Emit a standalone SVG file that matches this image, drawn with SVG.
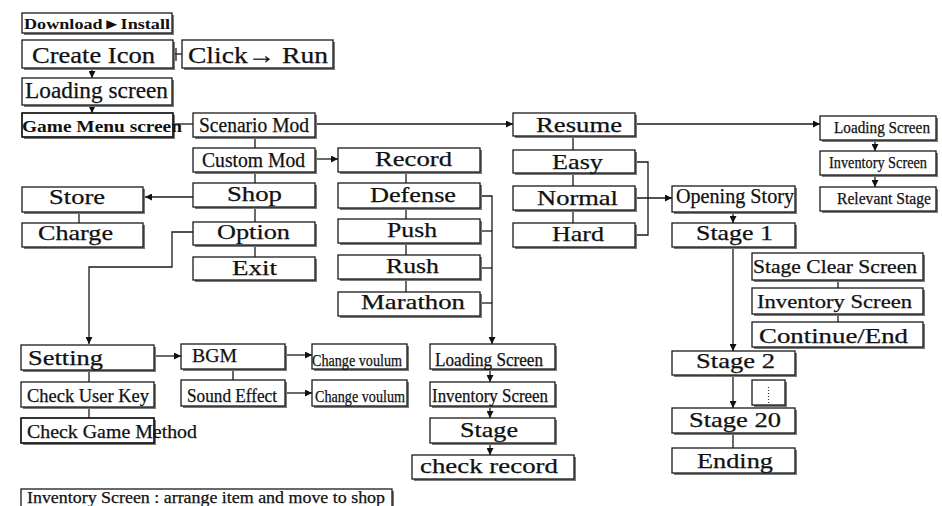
<svg xmlns="http://www.w3.org/2000/svg" width="942" height="506" viewBox="0 0 942 506">
<defs>
<marker id="ah" viewBox="0 0 8 8" refX="8" refY="4" markerWidth="7" markerHeight="7" markerUnits="userSpaceOnUse" orient="auto">
<path d="M0,0 L8,4 L0,8 z" fill="#111"/>
</marker>
</defs>
<style>
.sh{fill:#7a7a7a}
.bx{fill:#fff;stroke:#1a1a1a;stroke-width:1.3}
.bo{fill:none;stroke:#1a1a1a;stroke-width:1.3}
text{font-family:"Liberation Serif","Times New Roman",serif;fill:#111;stroke:#111;stroke-width:0.25}
.b{font-weight:bold;stroke-width:0}
.c line,.c polyline,.c path{stroke:#1a1a1a;stroke-width:1.3;fill:none}
.ar{marker-end:url(#ah)}
</style>
<rect width="942" height="506" fill="#fff"/>
<g class="c" id="connectors">
<line x1="173" y1="54" x2="182" y2="54"/>
<line x1="176" y1="48" x2="176" y2="61"/>
<line class="ar" x1="92" y1="68" x2="92" y2="78"/>
<line class="ar" x1="92" y1="105" x2="92" y2="113"/>
<line x1="173" y1="124" x2="193" y2="124"/>
<line x1="255" y1="137" x2="255" y2="257"/>
<line class="ar" x1="315" y1="124" x2="513" y2="124"/>
<line class="ar" x1="315" y1="159" x2="338" y2="159"/>
<line class="ar" x1="193" y1="197" x2="145" y2="197"/>
<line x1="79" y1="212" x2="79" y2="223"/>
<polyline class="ar" points="193,232 172,232 172,267 89,267 89,344"/>
<line x1="406" y1="172" x2="406" y2="292"/>
<polyline class="ar" points="480,196 492,196 492,344"/>
<line x1="480" y1="231" x2="492" y2="231"/>
<line x1="480" y1="268" x2="492" y2="268"/>
<line x1="480" y1="303" x2="492" y2="303"/>
<line class="ar" x1="490" y1="369" x2="490" y2="382"/>
<line class="ar" x1="490" y1="406" x2="490" y2="418"/>
<line class="ar" x1="490" y1="443" x2="490" y2="455"/>
<line class="ar" x1="635" y1="124" x2="820" y2="124"/>
<line x1="573" y1="136" x2="573" y2="223"/>
<polyline points="635,162 648,162 648,235 635,235"/>
<line class="ar" x1="635" y1="198" x2="672" y2="198"/>
<line class="ar" x1="875" y1="140" x2="875" y2="151"/>
<line class="ar" x1="875" y1="175" x2="875" y2="187"/>
<line class="ar" x1="733" y1="212" x2="733" y2="223"/>
<line class="ar" x1="733" y1="247" x2="733" y2="351"/>
<line x1="838" y1="280" x2="838" y2="322"/>
<line class="ar" x1="733" y1="375" x2="733" y2="408"/>
<line x1="733" y1="433" x2="733" y2="448"/>
<line class="ar" x1="154" y1="356" x2="181" y2="356"/>
<line class="ar" x1="285" y1="355" x2="312" y2="355"/>
<line x1="233" y1="369" x2="233" y2="380"/>
<line class="ar" x1="285" y1="393" x2="312" y2="393"/>
<line x1="89" y1="370" x2="89" y2="382"/>
<line x1="89" y1="407" x2="89" y2="418"/>
</g>
<g id="n-download"><rect class="sh" x="24" y="15" width="150" height="20"/><rect class="bx" x="22" y="13" width="150" height="20"/><text class="b" x="24" y="29" font-size="15" textLength="146" lengthAdjust="spacingAndGlyphs">Download►Install</text></g>
<g id="n-createicon"><rect class="sh" x="24" y="42" width="151" height="28"/><rect class="bx" x="22" y="40" width="151" height="28"/><text x="32" y="63" font-size="24" textLength="123" lengthAdjust="spacingAndGlyphs">Create Icon</text></g>
<g id="n-clickrun"><rect class="sh" x="184" y="42" width="151" height="28"/><rect class="bx" x="182" y="40" width="151" height="28"/><text x="188" y="63" font-size="24" textLength="140" lengthAdjust="spacingAndGlyphs">Click→ Run</text></g>
<g id="n-loading"><rect class="sh" x="24" y="80" width="150" height="27"/><rect class="bx" x="22" y="78" width="150" height="27"/><text x="25" y="98" font-size="23" textLength="143" lengthAdjust="spacingAndGlyphs">Loading screen</text></g>
<g id="n-gamemenu"><rect class="sh" x="24" y="115" width="151" height="24"/><rect class="bx" x="22" y="113" width="151" height="24"/><text class="b" x="22" y="132" font-size="17" textLength="160" lengthAdjust="spacingAndGlyphs">Game Menu screen</text><rect class="bo" x="22" y="113" width="151" height="24"/></g>
<g id="n-scenario"><rect class="sh" x="195" y="115" width="122" height="24"/><rect class="bx" x="193" y="113" width="122" height="24"/><text x="199" y="132" font-size="20" textLength="110" lengthAdjust="spacingAndGlyphs">Scenario Mod</text></g>
<g id="n-custom"><rect class="sh" x="195" y="150" width="122" height="24"/><rect class="bx" x="193" y="148" width="122" height="24"/><text x="202" y="167" font-size="20" textLength="103" lengthAdjust="spacingAndGlyphs">Custom Mod</text></g>
<g id="n-shop"><rect class="sh" x="195" y="185" width="122" height="24"/><rect class="bx" x="193" y="183" width="122" height="24"/><text x="227" y="201" font-size="21" textLength="55" lengthAdjust="spacingAndGlyphs">Shop</text></g>
<g id="n-option"><rect class="sh" x="195" y="224" width="122" height="23"/><rect class="bx" x="193" y="222" width="122" height="23"/><text x="217" y="239" font-size="21" textLength="73" lengthAdjust="spacingAndGlyphs">Option</text></g>
<g id="n-exit"><rect class="sh" x="195" y="259" width="122" height="23"/><rect class="bx" x="193" y="257" width="122" height="23"/><text x="232" y="275" font-size="21" textLength="45" lengthAdjust="spacingAndGlyphs">Exit</text></g>
<g id="n-store"><rect class="sh" x="24" y="189" width="121" height="25"/><rect class="bx" x="22" y="187" width="121" height="25"/><text x="49" y="204" font-size="21" textLength="56" lengthAdjust="spacingAndGlyphs">Store</text></g>
<g id="n-charge"><rect class="sh" x="24" y="225" width="121" height="24"/><rect class="bx" x="22" y="223" width="121" height="24"/><text x="38" y="240" font-size="21" textLength="75" lengthAdjust="spacingAndGlyphs">Charge</text></g>
<g id="n-record"><rect class="sh" x="340" y="150" width="142" height="24"/><rect class="bx" x="338" y="148" width="142" height="24"/><text x="375" y="166" font-size="21" textLength="77" lengthAdjust="spacingAndGlyphs">Record</text></g>
<g id="n-defense"><rect class="sh" x="340" y="185" width="142" height="25"/><rect class="bx" x="338" y="183" width="142" height="25"/><text x="370" y="202" font-size="21" textLength="86" lengthAdjust="spacingAndGlyphs">Defense</text></g>
<g id="n-push"><rect class="sh" x="340" y="221" width="142" height="24"/><rect class="bx" x="338" y="219" width="142" height="24"/><text x="387" y="237" font-size="21" textLength="50" lengthAdjust="spacingAndGlyphs">Push</text></g>
<g id="n-rush"><rect class="sh" x="340" y="257" width="142" height="24"/><rect class="bx" x="338" y="255" width="142" height="24"/><text x="386" y="273" font-size="21" textLength="53" lengthAdjust="spacingAndGlyphs">Rush</text></g>
<g id="n-marathon"><rect class="sh" x="340" y="294" width="142" height="24"/><rect class="bx" x="338" y="292" width="142" height="24"/><text x="361" y="309" font-size="21" textLength="104" lengthAdjust="spacingAndGlyphs">Marathon</text></g>
<g id="n-resume"><rect class="sh" x="515" y="115" width="122" height="23"/><rect class="bx" x="513" y="113" width="122" height="23"/><text x="536" y="132" font-size="21" textLength="86" lengthAdjust="spacingAndGlyphs">Resume</text></g>
<g id="n-easy"><rect class="sh" x="515" y="152" width="122" height="23"/><rect class="bx" x="513" y="150" width="122" height="23"/><text x="552" y="169" font-size="21" textLength="51" lengthAdjust="spacingAndGlyphs">Easy</text></g>
<g id="n-normal"><rect class="sh" x="515" y="188" width="122" height="24"/><rect class="bx" x="513" y="186" width="122" height="24"/><text x="537" y="205" font-size="21" textLength="81" lengthAdjust="spacingAndGlyphs">Normal</text></g>
<g id="n-hard"><rect class="sh" x="515" y="225" width="122" height="24"/><rect class="bx" x="513" y="223" width="122" height="24"/><text x="552" y="241" font-size="21" textLength="52" lengthAdjust="spacingAndGlyphs">Hard</text></g>
<g id="n-loading2"><rect class="sh" x="822" y="118" width="116" height="24"/><rect class="bx" x="820" y="116" width="116" height="24"/><text x="834" y="133" font-size="17" textLength="96" lengthAdjust="spacingAndGlyphs">Loading Screen</text></g>
<g id="n-inventory2"><rect class="sh" x="822" y="153" width="116" height="24"/><rect class="bx" x="820" y="151" width="116" height="24"/><text x="829" y="168" font-size="16" textLength="98" lengthAdjust="spacingAndGlyphs">Inventory Screen</text></g>
<g id="n-relevant"><rect class="sh" x="822" y="189" width="116" height="24"/><rect class="bx" x="820" y="187" width="116" height="24"/><text x="837" y="204" font-size="17" textLength="94" lengthAdjust="spacingAndGlyphs">Relevant Stage</text></g>
<g id="n-opening"><rect class="sh" x="674" y="188" width="123" height="26"/><rect class="bx" x="672" y="186" width="123" height="26"/><text x="676" y="203" font-size="20" textLength="118" lengthAdjust="spacingAndGlyphs">Opening Story</text></g>
<g id="n-stage1"><rect class="sh" x="674" y="225" width="123" height="24"/><rect class="bx" x="672" y="223" width="123" height="24"/><text x="696" y="240" font-size="21" textLength="77" lengthAdjust="spacingAndGlyphs">Stage 1</text></g>
<g id="n-stageclear"><rect class="sh" x="754" y="255" width="171" height="27"/><rect class="bx" x="752" y="253" width="171" height="27"/><text x="753" y="273" font-size="19" textLength="164" lengthAdjust="spacingAndGlyphs">Stage Clear Screen</text></g>
<g id="n-inventory3"><rect class="sh" x="754" y="290" width="171" height="26"/><rect class="bx" x="752" y="288" width="171" height="26"/><text x="757" y="308" font-size="19" textLength="155" lengthAdjust="spacingAndGlyphs">Inventory Screen</text></g>
<g id="n-continue"><rect class="sh" x="754" y="324" width="171" height="25"/><rect class="bx" x="752" y="322" width="171" height="25"/><text x="759" y="343" font-size="21" textLength="149" lengthAdjust="spacingAndGlyphs">Continue/End</text></g>
<g id="n-stage2"><rect class="sh" x="674" y="353" width="123" height="24"/><rect class="bx" x="672" y="351" width="123" height="24"/><text x="696" y="368" font-size="21" textLength="79" lengthAdjust="spacingAndGlyphs">Stage 2</text></g>
<g id="n-dots"><rect class="sh" x="754" y="382" width="33" height="25"/><rect class="bx" x="752" y="380" width="33" height="25"/><line x1="768.5" y1="387" x2="768.5" y2="403" stroke="#333" stroke-width="1.2" stroke-dasharray="1,2"/></g>
<g id="n-stage20"><rect class="sh" x="674" y="410" width="123" height="25"/><rect class="bx" x="672" y="408" width="123" height="25"/><text x="689" y="427" font-size="21" textLength="92" lengthAdjust="spacingAndGlyphs">Stage 20</text></g>
<g id="n-ending"><rect class="sh" x="674" y="450" width="123" height="25"/><rect class="bx" x="672" y="448" width="123" height="25"/><text x="697" y="468" font-size="21" textLength="76" lengthAdjust="spacingAndGlyphs">Ending</text></g>
<g id="n-setting"><rect class="sh" x="23" y="347" width="133" height="25"/><rect class="bx" x="21" y="345" width="133" height="25"/><text x="28" y="365" font-size="21" textLength="75" lengthAdjust="spacingAndGlyphs">Setting</text></g>
<g id="n-bgm"><rect class="sh" x="183" y="346" width="104" height="25"/><rect class="bx" x="181" y="344" width="104" height="25"/><text x="192" y="362" font-size="19" textLength="45" lengthAdjust="spacingAndGlyphs">BGM</text></g>
<g id="n-change1"><rect class="sh" x="314" y="346" width="95" height="25"/><rect class="bx" x="312" y="344" width="95" height="25"/><text x="312" y="366" font-size="17" textLength="90" lengthAdjust="spacingAndGlyphs">Change voulum</text></g>
<g id="n-soundeffect"><rect class="sh" x="183" y="382" width="104" height="26"/><rect class="bx" x="181" y="380" width="104" height="26"/><text x="187" y="402" font-size="18" textLength="90" lengthAdjust="spacingAndGlyphs">Sound Effect</text></g>
<g id="n-change2"><rect class="sh" x="314" y="382" width="95" height="26"/><rect class="bx" x="312" y="380" width="95" height="26"/><text x="315" y="402" font-size="17" textLength="90" lengthAdjust="spacingAndGlyphs">Change voulum</text></g>
<g id="n-checkuser"><rect class="sh" x="23" y="384" width="133" height="25"/><rect class="bx" x="21" y="382" width="133" height="25"/><text x="27" y="402" font-size="18" textLength="122" lengthAdjust="spacingAndGlyphs">Check User Key</text></g>
<g id="n-checkgame"><rect class="sh" x="23" y="420" width="133" height="25"/><rect class="bx" x="21" y="418" width="133" height="25"/><text x="27" y="438" font-size="19" textLength="170" lengthAdjust="spacingAndGlyphs">Check Game Method</text><rect class="bo" x="21" y="418" width="133" height="25"/></g>
<g id="n-loading3"><rect class="sh" x="432" y="346" width="125" height="25"/><rect class="bx" x="430" y="344" width="125" height="25"/><text x="435" y="366" font-size="18" textLength="108" lengthAdjust="spacingAndGlyphs">Loading Screen</text></g>
<g id="n-inventory4"><rect class="sh" x="432" y="384" width="125" height="24"/><rect class="bx" x="430" y="382" width="125" height="24"/><text x="432" y="402" font-size="18" textLength="116" lengthAdjust="spacingAndGlyphs">Inventory Screen</text></g>
<g id="n-stage"><rect class="sh" x="432" y="420" width="125" height="25"/><rect class="bx" x="430" y="418" width="125" height="25"/><text x="460" y="437" font-size="21" textLength="58" lengthAdjust="spacingAndGlyphs">Stage</text></g>
<g id="n-checkrecord"><rect class="sh" x="414" y="457" width="162" height="24"/><rect class="bx" x="412" y="455" width="162" height="24"/><text x="420" y="473" font-size="21" textLength="138" lengthAdjust="spacingAndGlyphs">check record</text></g>
<g id="n-note"><rect class="sh" x="23" y="491" width="371" height="22"/><rect class="bx" x="21" y="489" width="371" height="22"/><text x="27" y="503" font-size="17" textLength="358" lengthAdjust="spacingAndGlyphs">Inventory Screen : arrange item and move to shop</text></g>
</svg>
